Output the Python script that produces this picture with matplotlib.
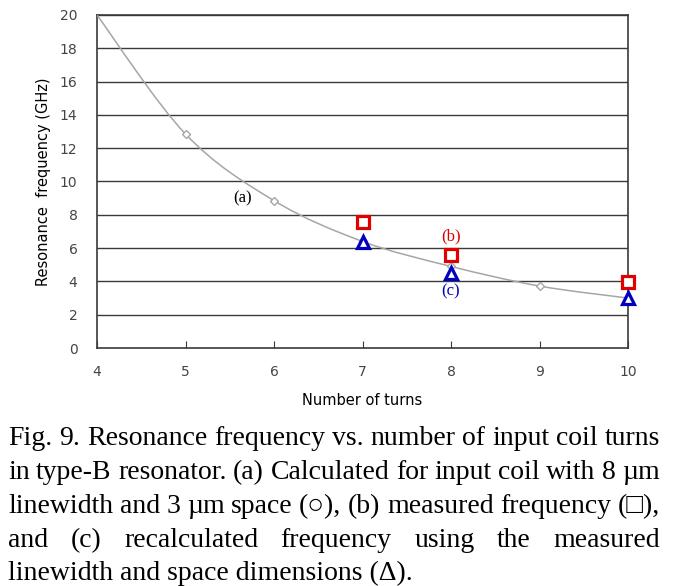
import matplotlib.pyplot as plt
from matplotlib.path import Path
from matplotlib.patches import PathPatch

# data
turns = [4, 5, 6, 7, 8, 9, 10]
calc_freq = [20.0, 12.85, 8.85, 6.4, 4.9, 3.72, 3.0]
meas_turns = [7, 8, 10]
meas_freq = [7.55, 5.6, 3.95]
recalc_turns = [7, 8, 10]
recalc_freq = [6.35, 4.5, 3.0]

caption_lines = [
    "Fig. 9. Resonance frequency vs. number of input coil turns",
    "in type-B resonator. (a) Calculated for input coil with 8 \u00b5m",
    "linewidth and 3 \u00b5m space (\u25cb), (b) measured frequency (\u25a1),",
    "and (c) recalculated frequency using the measured",
    "linewidth and space dimensions (\u0394).",
]

grey = '#a6a6a6'
red = '#e00000'
blue = '#0000c0'

fig = plt.figure(figsize=(6.77, 5.86), dpi=100)
ax = fig.add_axes([97 / 677, 1 - 348 / 586, 531 / 677, 333 / 586])

# smoothed line like the spreadsheet's "smooth line" option
pts = list(zip(turns, calc_freq))
verts = [pts[0]]
codes = [Path.MOVETO]
for i in range(len(pts) - 1):
    p0 = pts[max(i - 1, 0)]
    p1 = pts[i]
    p2 = pts[i + 1]
    p3 = pts[min(i + 2, len(pts) - 1)]
    c1 = (p1[0] + (p2[0] - p0[0]) / 6, p1[1] + (p2[1] - p0[1]) / 6)
    c2 = (p2[0] - (p3[0] - p1[0]) / 6, p2[1] - (p3[1] - p1[1]) / 6)
    verts += [c1, c2, p2]
    codes += [Path.CURVE4] * 3
ax.add_patch(PathPatch(Path(verts, codes), fill=False, edgecolor=grey, lw=1.1, zorder=3))
ax.plot(turns[1:], calc_freq[1:], ls='none', marker='D', ms=4, mfc='white',
        mec=grey, mew=1, zorder=4)

ax.plot(meas_turns, meas_freq, ls='none', marker='s', ms=8, mfc='white',
        mec=red, mew=2.3, zorder=5, clip_on=False)
ax.plot(recalc_turns, recalc_freq, ls='none', marker='^', ms=9, mfc='white',
        mec=blue, mew=2.3, zorder=5, clip_on=False)

ax.set_xlim(4, 10)
ax.set_ylim(0, 20)
ax.set_yticks(range(0, 21, 2))
ax.set_xticks(range(4, 11))
for y in range(2, 21, 2):
    ax.axhline(y, color='#3a3a3a', lw=1, zorder=1)
for s in ax.spines.values():
    s.set_color('#3a3a3a')
    s.set_linewidth(1.2)
ax.tick_params(axis='y', length=0, pad=14, labelsize=10, labelcolor='#444444')
ax.tick_params(axis='x', direction='in', length=5, pad=12, labelsize=10,
               labelcolor='#444444', color='#3a3a3a')
ax.set_xlabel('Number of turns', fontsize=10.5, labelpad=10)
ax.set_ylabel('Resonance  frequency (GHz)', fontsize=10.5, labelpad=6)

serif = 'Liberation Serif'
ax.text(5.65, 9.0, '(a)', fontsize=12, family=serif, ha='center', va='center')
ax.text(8.0, 6.7, '(b)', fontsize=12, family=serif, color=red, ha='center', va='center')
ax.text(8.0, 3.4, '(c)', fontsize=12, family=serif, color=blue, ha='center', va='center')

# caption, justified like the printed paper
left, right = 8 / 677, 660 / 677
fsize = 20
baselines = [445, 479, 513, 547, 580]
renderer = fig.canvas.get_renderer()
for k, line in enumerate(caption_lines):
    yb = 1 - baselines[k] / 586
    if k == len(caption_lines) - 1:
        fig.text(left, yb, line, fontsize=fsize, family=serif, va='baseline')
        continue
    words = line.split(' ')
    texts = [fig.text(0, yb, w, fontsize=fsize, family=serif, va='baseline') for w in words]
    widths = [t.get_window_extent(renderer).width / 677 for t in texts]
    gap = (right - left - sum(widths)) / (len(words) - 1)
    x = left
    for t, w in zip(texts, widths):
        t.set_x(x)
        x += w + gap

fig.savefig('out.png', dpi=100)
